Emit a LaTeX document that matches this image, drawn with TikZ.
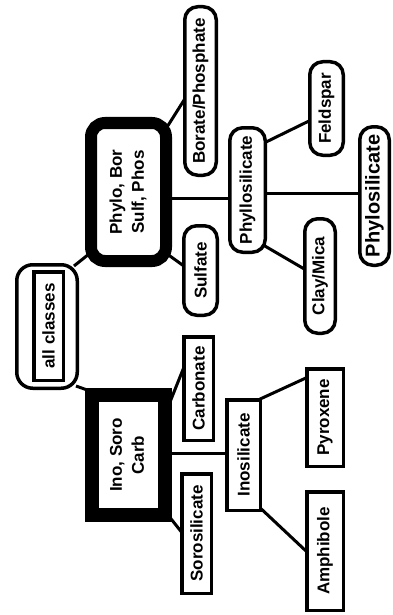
\documentclass[tikz,border=0pt]{standalone}
\usepackage{fontspec}
\setmainfont{Liberation Sans}
\usetikzlibrary{backgrounds}
\newcommand{\rt}[1]{\rotatebox{90}{#1}}
\newcommand{\rtt}[2]{\rotatebox{90}{\begin{tabular}{@{}c@{}}#1\\#2\end{tabular}}}
\begin{document}
\begin{tikzpicture}[x=1pt,y=-1pt,
  txt/.style={font=\bfseries\fontsize{17}{22}\selectfont},
  rbox/.style={txt,draw,line width=3.5pt,rounded corners=13pt,fill=white,inner sep=0pt},
  sbox/.style={txt,draw,line width=3.5pt,fill=white,inner sep=0pt},
  link/.style={line width=3pt}]
\useasboundingbox (0,0) rectangle (392,615);
% top-level
\node[rbox,rounded corners=16pt,minimum width=60.5pt,minimum height=123.5pt] (allc) at (47,326.5) {};
\node[sbox,minimum width=29.5pt,minimum height=108.5pt] (allcin) at (48.5,326) {\rt{all classes}};
\node[txt,draw,line width=12pt,rounded corners=14pt,fill=white,inner sep=0pt,minimum width=75pt,minimum height=138pt] (phylo) at (128.5,192) {\rtt{Phylo, Bor}{Sulf, Phos}};
\node[txt,draw,line width=14pt,fill=white,inner sep=0pt,minimum width=73pt,minimum height=120pt] (ino) at (128.5,455) {\rtt{Ino, Soro}{Carb}};
% second level
\node[rbox,minimum width=31.5pt,minimum height=168.5pt] (borate) at (200.5,91) {\rt{Borate/Phosphate}};
\node[rbox,minimum width=33.5pt,minimum height=89.5pt] (sulfate) at (200.5,270.5) {\rt{Sulfate}};
\node[sbox,minimum width=29.5pt,minimum height=103.5pt] (carb) at (198.5,388.5) {\rt{Carbonate}};
\node[sbox,minimum width=29.5pt,minimum height=119.5pt] (soro) at (196.5,533.5) {\rt{Sorosilicate}};
\node[rbox,minimum width=35.5pt,minimum height=124.5pt] (phyllo) at (247.5,190) {\rt{Phyllosilicate}};
\node[sbox,minimum width=33.5pt,minimum height=110.5pt] (inosil) at (243.5,455) {\rt{Inosilicate}};
% third level
\node[rbox,minimum width=33.5pt,minimum height=93.5pt] (feld) at (326.5,108.5) {\rt{Feldspar}};
\node[rbox,minimum width=30.5pt,minimum height=114.5pt] (clay) at (320,276) {\rt{Clay/Mica}};
\node[rbox,minimum width=29.5pt,minimum height=138.5pt,font=\bfseries\fontsize{20}{22}\selectfont] (phylos) at (374.5,196) {\rt{Phylosilicate}};
\node[sbox,minimum width=36.5pt,minimum height=97.5pt] (pyro) at (325,417.5) {\rt{Pyroxene}};
\node[sbox,minimum width=36.5pt,minimum height=118.5pt] (amph) at (325,551) {\rt{Amphibole}};
% connectors
\begin{scope}[on background layer]
\draw[link] ([shift={(27,-60.5)}]allc.center) -- ([shift={(-34.5,58)}]phylo.center);
\draw[link] ([shift={(29,59.5)}]allc.center) -- ([shift={(-38.5,-64)}]ino.center);
\draw[link] ([shift={(33.5,-57)}]phylo.center) -- ([shift={(-14.5,6)}]borate.center);
\draw[link] ([shift={(34.5,59)}]phylo.center) -- ([shift={(-12.5,-1.5)}]sulfate.center);
\draw[link] ([shift={(36.5,6)}]phylo.center) -- ([shift={(-17.5,8)}]phyllo.center);
\draw[link] ([shift={(14.5,-46)}]phyllo.center) -- ([shift={(-15.5,11.5)}]feld.center);
\draw[link] ([shift={(16.5,3)}]phyllo.center) -- ([shift={(-13.5,-3)}]phylos.center);
\draw[link] ([shift={(10.5,52)}]phyllo.center) -- ([shift={(-14,-6)}]clay.center);
\draw[link] ([shift={(39.5,-48)}]ino.center) -- ([shift={(-14.5,-21.5)}]carb.center);
\draw[link] ([shift={(36.5,-2)}]ino.center) -- ([shift={(-15.5,-2)}]inosil.center);
\draw[link] ([shift={(39.5,60)}]ino.center) -- ([shift={(-13.5,0.5)}]soro.center);
\draw[link] ([shift={(14.5,-55)}]inosil.center) -- ([shift={(-17,-40.5)}]pyro.center);
\draw[link] ([shift={(12.5,49)}]inosil.center) -- ([shift={(-19,0)}]amph.center);
\end{scope}
\end{tikzpicture}
\end{document}
